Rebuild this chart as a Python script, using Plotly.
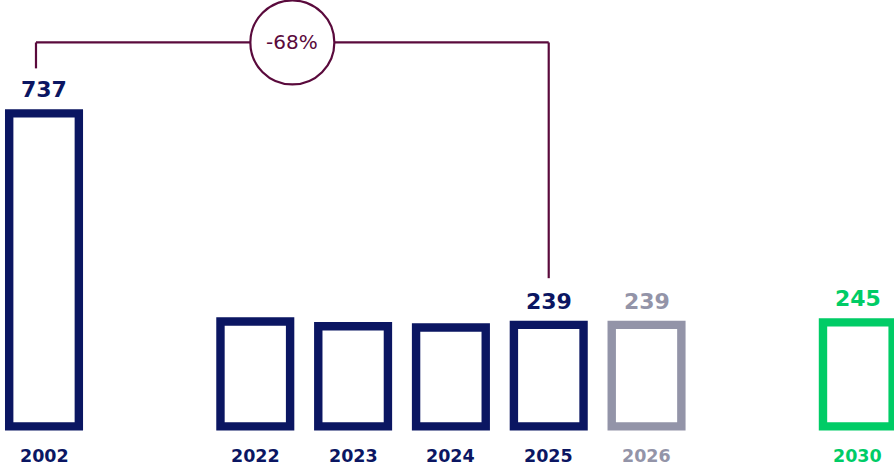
import plotly.graph_objects as go

# Chart data
years = ["2002", "2022", "2023", "2024", "2025", "2026", "2030"]
values = [737, 247, 236, 233, 239, 239, 245]
show_value = [True, False, False, False, True, True, True]
series_kind = ["actual", "actual", "actual", "actual", "actual", "forecast", "target"]

# Styling
NAVY = "#0b1662"
GREY = "#9394a8"
GREEN = "#00cc66"
PLUM = "#5a0a3c"
KIND_COLOR = {"actual": NAVY, "forecast": GREY, "target": GREEN}
FONT = "DejaVu Sans"

# Slot layout: three groups with a wider gap between them
groups = [["2002"], ["2022", "2023", "2024", "2025", "2026"], ["2030"]]
GROUP_GAP = 1.16
positions = {}
pos = 0.0
for g in groups:
    for y in g:
        positions[y] = pos
        pos += 1.0
    pos += GROUP_GAP
xs = [positions[y] for y in years]
colors = [KIND_COLOR[k] for k in series_kind]

fig = go.Figure()
fig.add_trace(go.Bar(
    x=xs, y=values, width=0.712,
    marker=dict(color="white", line=dict(color=colors, width=8.4)),
    cliponaxis=False, hoverinfo="skip",
))

annotations = []
for x, v, c, yr, show in zip(xs, values, colors, years, show_value):
    if show:
        annotations.append(dict(
            x=x, y=v, xref="x", yref="y", text=f"<b>{v}</b>", showarrow=False,
            yanchor="bottom", yshift=9, font=dict(family=FONT, size=22, color=c),
        ))
    annotations.append(dict(
        x=x, y=0, xref="x", yref="y", text=f"<b>{yr}</b>", showarrow=False,
        yanchor="middle", yshift=-30, font=dict(family=FONT, size=17.5, color=c),
    ))

# Change bracket between 2002 and 2025
start_year, end_year = "2002", "2025"
i0, i1 = years.index(start_year), years.index(end_year)
v0, v1 = values[i0], values[i1]
change = round((v1 - v0) / v0 * 100)
BRACKET_Y = 904
xl = xs[i0] - 0.082
xr = xs[i1]
xm = (xl + xr) / 2
line_style = dict(color=PLUM, width=2.2)
shapes = [
    dict(type="line", xref="x", yref="y", x0=xl, x1=xl, y0=v0 + 106, y1=BRACKET_Y, line=line_style),
    dict(type="line", xref="x", yref="y", x0=xl, x1=xr, y0=BRACKET_Y, y1=BRACKET_Y, line=line_style),
    dict(type="line", xref="x", yref="y", x0=xr, x1=xr, y0=v1 + 110, y1=BRACKET_Y, line=line_style),
    dict(type="circle", xref="x", yref="y", xsizemode="pixel", ysizemode="pixel",
         xanchor=xm, yanchor=BRACKET_Y, x0=-42, x1=42, y0=-42, y1=42,
         fillcolor="white", line=line_style, layer="above"),
]
annotations.append(dict(
    x=xm, y=BRACKET_Y, xref="x", yref="y", text=f"{change}%", showarrow=False,
    font=dict(family=FONT, size=20, color=PLUM),
))

fig.update_layout(
    width=894, height=469,
    margin=dict(l=0, r=0, t=0, b=29),
    paper_bgcolor="white", plot_bgcolor="white",
    showlegend=False,
    xaxis=dict(range=[-0.45, 8.69], visible=False),
    yaxis=dict(range=[-32, 1004], visible=False),
    shapes=shapes, annotations=annotations,
)

fig.write_html("out.html")
